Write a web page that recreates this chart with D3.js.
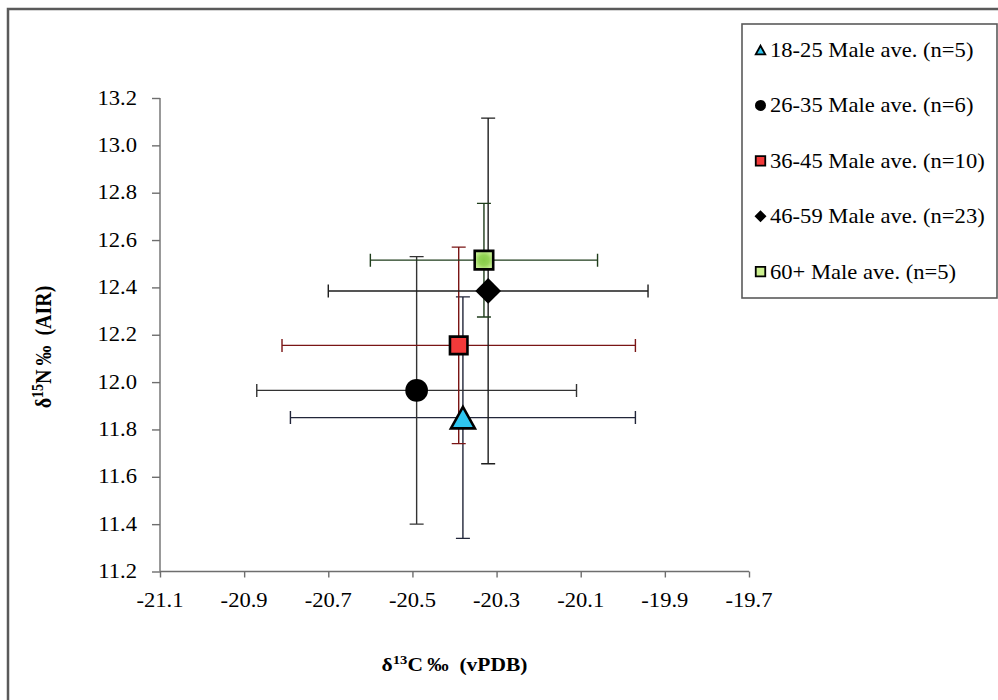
<!DOCTYPE html>
<html>
<head>
<meta charset="utf-8">
<script src="https://cdn.jsdelivr.net/npm/d3@7"></script>
<style>
  html, body { margin: 0; padding: 0; background: #fff; }
  svg { display: block; }
  svg text { font-family: "Liberation Serif", "Times New Roman", serif; fill: #000; }
</style>
</head>
<body>
<svg id="chart" width="998" height="700"></svg>
<script>
// Male age-group averages: δ13C (x) and δ15N (y) with ±1 SD
const groups = ["18-25 Male ave. (n=5)", "26-35 Male ave. (n=6)", "36-45 Male ave. (n=10)", "46-59 Male ave. (n=23)", "60+ Male ave. (n=5)"];
const d13C = [-20.38, -20.49, -20.39, -20.32, -20.33];
const d15N = [11.85, 11.965, 12.155, 12.385, 12.515];
const sdC  = [0.41, 0.38, 0.42, 0.38, 0.27];
const sdN  = [0.51, 0.565, 0.415, 0.73, 0.24];
const xTicks = [-21.1, -20.9, -20.7, -20.5, -20.3, -20.1, -19.9, -19.7];
const yTicks = [11.2, 11.4, 11.6, 11.8, 12.0, 12.2, 12.4, 12.6, 12.8, 13.0, 13.2];

// marker look per group
const shapes  = ["triangle", "circle", "square", "diamond", "square"];
const fills   = ["#2fc6f0", "#000000", "#f23a3a", "#000000", "url(#greenFill)"];
const legendFills = ["#2fc6f0", "#000000", "#f23a3a", "#000000", "#ccf08f"];
const barColors = ["#22263a", "#333333", "#7a1515", "#1e1e1e", "#1f3d1b"];

const FONT = "'Liberation Serif', 'Times New Roman', serif";
const svg = d3.select("#chart");
const SX = 1.13; // horizontal glyph stretch of the text

const defs = svg.append("defs");
const g = defs.append("radialGradient").attr("id", "greenFill");
g.append("stop").attr("offset", "0%").attr("stop-color", "#86cc48");
g.append("stop").attr("offset", "55%").attr("stop-color", "#94d456");
g.append("stop").attr("offset", "100%").attr("stop-color", "#c4ec90");

// outer chart frame (runs off the right and bottom edges)
svg.append("rect")
  .attr("x", 8).attr("y", 9).attr("width", 1010).attr("height", 710)
  .attr("fill", "none").attr("stroke", "#5a5a5a").attr("stroke-width", 2.5);

const x = d3.scaleLinear().domain([-21.1, -19.7]).range([160, 749]);
const y = d3.scaleLinear().domain([11.2, 13.2]).range([571.5, 98]);

function stretchedText(parent, tx, ty, str, anchor, size, weight) {
  return parent.append("text")
    .attr("transform", `translate(${tx},${ty}) scale(${SX},1)`)
    .attr("text-anchor", anchor)
    .attr("font-family", FONT)
    .attr("font-size", size)
    .attr("font-weight", weight || "normal")
    .text(str);
}

// axes
const axisColor = "#6e6e6e";
const xAxis = svg.append("g").attr("transform", `translate(0,${y(11.2)})`)
  .call(d3.axisBottom(x).tickValues(xTicks).tickSize(6).tickFormat(""));
const yAxis = svg.append("g").attr("transform", `translate(${x(-21.1)},0)`)
  .call(d3.axisLeft(y).tickValues(yTicks).tickSize(8).tickFormat(""));
[xAxis, yAxis].forEach(a => {
  a.select(".domain").attr("stroke", axisColor).attr("stroke-width", 1.4);
  a.selectAll(".tick line").attr("stroke", axisColor).attr("stroke-width", 1.4);
});
// straight domain lines without end caps
xAxis.select(".domain").attr("d", `M${x(-21.1)},0H${x(-19.7)}`);
yAxis.select(".domain").attr("d", `M0,${y(11.2)}V${y(13.2)}`);

// tick labels use a plain hyphen for the minus sign
const fmt = v => d3.format(".1f")(v).replace("\u2212", "-");
xTicks.forEach(v => stretchedText(svg, x(v), 607, fmt(v), "middle", 20));
yTicks.forEach(v => stretchedText(svg, 137, y(v) + 6.5, fmt(v), "end", 20));

// axis titles
const xt = svg.append("text")
  .attr("transform", `translate(${x(-20.4)},671) scale(${SX},1)`)
  .attr("text-anchor", "middle").attr("font-family", FONT)
  .attr("font-size", 19).attr("font-weight", "bold");
xt.append("tspan").text("δ");
xt.append("tspan").attr("font-size", 13).attr("dy", -7).text("13");
xt.append("tspan").attr("dy", 7).text("C\u2009‰\u00a0\u00a0(vPDB)");

const yt = svg.append("text")
  .attr("transform", `translate(51,347) rotate(-90) scale(1,${SX})`)
  .attr("text-anchor", "middle").attr("font-family", FONT)
  .attr("font-size", 20).attr("font-weight", "bold");
yt.append("tspan").text("δ");
yt.append("tspan").attr("font-size", 14).attr("dy", -7).text("15");
yt.append("tspan").attr("dy", 7).text("N\u2009‰\u00a0\u00a0(AIR)");

// error bars
const capN = 7, capC = 6.5;
const bars = svg.append("g");
groups.forEach((_, i) => {
  const cx = x(d13C[i]), cy = y(d15N[i]);
  const xl = x(d13C[i] - sdC[i]), xr = x(d13C[i] + sdC[i]);
  const yb = y(d15N[i] - sdN[i]), yt2 = y(d15N[i] + sdN[i]);
  const p = d3.path();
  p.moveTo(xl, cy); p.lineTo(xr, cy);
  p.moveTo(xl, cy - capC); p.lineTo(xl, cy + capC);
  p.moveTo(xr, cy - capC); p.lineTo(xr, cy + capC);
  p.moveTo(cx, yb); p.lineTo(cx, yt2);
  p.moveTo(cx - capN, yb); p.lineTo(cx + capN, yb);
  p.moveTo(cx - capN, yt2); p.lineTo(cx + capN, yt2);
  bars.append("path").attr("d", p.toString())
    .attr("fill", "none").attr("stroke", barColors[i]).attr("stroke-width", 1.4);
});

function markerPath(shape, s) {
  const h = s / 2;
  if (shape === "triangle") return `M0,${-h * 0.9}L${h},${h * 0.9}L${-h},${h * 0.9}Z`;
  if (shape === "square") return `M${-h},${-h}H${h}V${h}H${-h}Z`;
  if (shape === "diamond") return `M0,${-h}L${h},0L0,${h}L${-h},0Z`;
  return null;
}

function drawMarker(parent, shape, cx, cy, size, fill, strokeW) {
  if (shape === "circle") {
    parent.append("circle").attr("cx", cx).attr("cy", cy).attr("r", size / 2)
      .attr("fill", fill);
  } else {
    parent.append("path").attr("transform", `translate(${cx},${cy})`)
      .attr("d", markerPath(shape, size))
      .attr("fill", fill)
      .attr("stroke", "#000").attr("stroke-width", shape === "diamond" ? 0 : strokeW)
      .attr("stroke-linejoin", "miter");
  }
}

// plot markers
const chartSizes = [24, 22.7, 17.5, 25.7, 18.5];
const marks = svg.append("g");
groups.forEach((_, i) => {
  drawMarker(marks, shapes[i], x(d13C[i]), y(d15N[i]), chartSizes[i], fills[i], 2.6);
});

// legend
const legend = svg.append("g");
legend.append("rect").attr("x", 742).attr("y", 24).attr("width", 255).attr("height", 274)
  .attr("fill", "#fff").attr("stroke", "#5a5a5a").attr("stroke-width", 1.6);
const legendSizes = [9.5, 11, 9.5, 12, 9.5];
groups.forEach((name, i) => {
  const cy = 50 + i * 55.4;
  drawMarker(legend, shapes[i], 760.5, cy, legendSizes[i], legendFills[i], 1.8);
  stretchedText(legend, 770, cy + 7, name, "start", 20);
});
</script>
</body>
</html>
